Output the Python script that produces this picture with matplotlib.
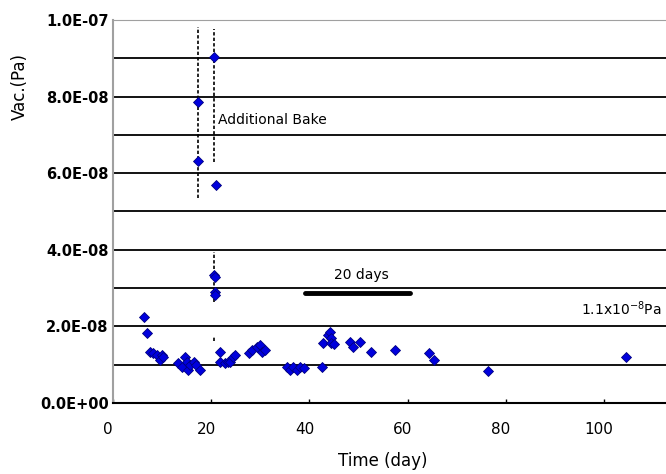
import matplotlib
matplotlib.use('Agg')
import matplotlib.pyplot as plt
import matplotlib.transforms as mtransforms
from matplotlib.ticker import MultipleLocator, FuncFormatter

# 测量数据 (day, Pa*1e-8)
days = [6.3, 7.0, 7.5, 8.2, 8.9, 9.6, 9.9, 10.2,
        13.3, 14.0, 14.7, 15.0, 15.3, 15.7, 16.4, 17.0, 17.7,
        17.4, 17.4, 20.6, 21.0, 20.6, 20.7, 20.8, 20.7,
        21.7, 21.8, 22.8, 23.5, 23.8, 24.5, 24.8,
        27.6, 28.3, 29.3, 29.9, 30.3, 31.0,
        35.4, 36.0, 36.7, 37.4, 38.1, 38.8,
        42.5, 42.8, 43.8, 44.2, 44.4, 44.5, 45.1,
        48.3, 48.9, 50.3, 52.5, 57.4,
        64.3, 65.4, 76.4, 104.5]
vac = [2.24, 1.82, 1.34, 1.30, 1.25, 1.12, 1.25, 1.20,
       1.04, 0.95, 1.21, 1.08, 0.86, 0.99, 1.08, 0.99, 0.86,
       7.87, 6.33, 9.03, 5.69, 3.34, 3.28, 2.90, 2.82,
       1.34, 1.08, 1.04, 1.08, 1.08, 1.21, 1.25,
       1.30, 1.38, 1.47, 1.51, 1.34, 1.38,
       0.95, 0.86, 0.95, 0.86, 0.95, 0.91,
       0.95, 1.56, 1.78, 1.85, 1.69, 1.56, 1.54,
       1.60, 1.47, 1.60, 1.32, 1.38,
       1.30, 1.12, 0.84, 1.21]
vac = [v * 1e-8 for v in vac]

x_ticks = [0, 20, 40, 60, 80, 100]

# 烘烤标记线 (x, y起点, y终点)
bake_lines = [(17.4, 5.35e-8, 9.82e-8),
              (20.6, 6.29e-8, 9.77e-8),
              (20.6, 2.64e-8, 3.95e-8),
              (20.6, 1.63e-8, 1.75e-8)]

# 20 days 区间
span_start, span_end, span_y = 39.1, 60.5, 2.86e-8

fig = plt.figure(figsize=(6.66, 4.74), dpi=100)
ax = fig.add_axes([113 / 666, 71 / 474, 120 * 4.91 / 666, 383 / 474])

ax.plot(days, vac, linestyle='none', marker='D', markersize=5.5,
        markerfacecolor='#0000dd', markeredgecolor='#000080', markeredgewidth=0.6, zorder=4)

for x, y0, y1 in bake_lines:
    ax.plot([x, x], [y0, y1], color='black', lw=1.2, linestyle=(0, (2, 1.3)), zorder=3)

ax.plot([span_start, span_end], [span_y, span_y], color='black', lw=3.5,
        solid_capstyle='round', zorder=3)

ax.text(21.4, 7.39e-8, 'Additional Bake', fontsize=10, va='center', ha='left')
ax.text(50.6, 3.34e-8, '20 days', fontsize=10, va='center', ha='center')
ax.text(95.4, 2.45e-8, r'1.1x10$^{-8}$Pa', fontsize=10, va='center', ha='left')

ax.set_xlim(0, 120)
ax.set_ylim(0, 1e-7)
ax.set_xticks(x_ticks)
ax.yaxis.set_major_locator(MultipleLocator(2e-8))
ax.yaxis.set_minor_locator(MultipleLocator(1e-8))
ax.yaxis.set_major_formatter(FuncFormatter(lambda v, p: '%.1E' % v))

ax.grid(True, axis='y', which='both', color='black', lw=1.3)
ax.set_axisbelow(True)

ax.tick_params(axis='x', direction='in', length=3, width=1, pad=14, labelsize=11)
ax.tick_params(axis='y', which='both', length=0, pad=3)
for lab in ax.get_yticklabels():
    lab.set_fontweight('bold')
    lab.set_fontsize(10.5)

# x 轴标签略微左移
offset = mtransforms.ScaledTranslation(-5 / 100, 0, fig.dpi_scale_trans)
for lab in ax.get_xticklabels():
    lab.set_transform(lab.get_transform() + offset)

ax.spines['right'].set_visible(False)
ax.spines['top'].set_color('#a0a0a0')
ax.spines['left'].set_color('#a0a0a0')
ax.spines['left'].set_linewidth(1.5)
ax.spines['bottom'].set_color('black')
ax.spines['bottom'].set_linewidth(1.5)

fig.text(383 / 666, 1 - 461 / 474, 'Time (day)', fontsize=12, ha='center', va='center')
fig.text(20 / 666, 1 - 87 / 474, 'Vac.(Pa)', fontsize=12, ha='center', va='center', rotation=90)

fig.savefig('out.png', dpi=100)
